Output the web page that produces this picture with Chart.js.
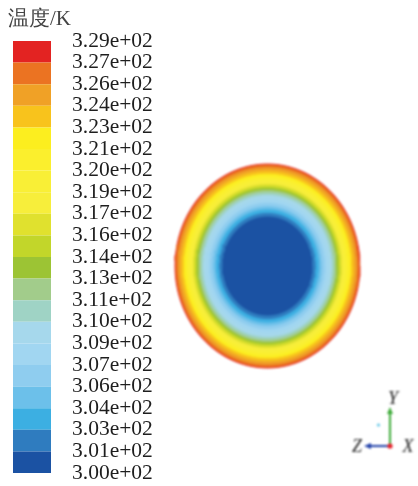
<!DOCTYPE html>
<html>
<head>
<meta charset="utf-8">
<script src="https://cdn.jsdelivr.net/npm/chart.js@4.4.0/dist/chart.umd.min.js"></script>
<style>
    html, body { margin: 0; padding: 0; background: #fff; }
    body { width: 418px; height: 486px; position: relative; overflow: hidden; }
    #barChart { position: absolute; left: 0; top: 0; filter: blur(0.3px); }
    #mapChart { position: absolute; left: 170px; top: 0; filter: blur(0.9px); }
</style>
</head>
<body>
<canvas id="barChart" width="170" height="486"></canvas>
<canvas id="mapChart" width="248" height="486"></canvas>
<script>
// Contour levels shown on the colour bar (bottom to top)
const tickLabels = [
    '3.00e+02', '3.01e+02', '3.03e+02', '3.04e+02', '3.06e+02', '3.07e+02', '3.09e+02',
    '3.10e+02', '3.11e+02', '3.13e+02', '3.14e+02', '3.16e+02', '3.17e+02', '3.19e+02',
    '3.20e+02', '3.21e+02', '3.23e+02', '3.24e+02', '3.26e+02', '3.27e+02', '3.29e+02'
];

// Band colours, coldest first
const bandColors = [
    '#1b52a3', '#2f7cbf', '#3cafe2', '#6cc0ea', '#8fcdef', '#a1d6f1', '#a6d8ec',
    '#9fd3c5', '#a2cc8b', '#9cc434', '#c2d62a', '#e0e12e', '#f7ee3b', '#f9ef36',
    '#fbef2d', '#fcee1f', '#f8c31c', '#f0a126', '#eb7322', '#e32322'
];

// Outer radius of each band in the cross-section (1 = wall), coldest first
const bandRadius = [
    0.48, 0.515, 0.55, 0.58, 0.615, 0.65, 0.69, 0.715, 0.74, 0.76,
    0.78, 0.80, 0.825, 0.85, 0.875, 0.90, 0.93, 0.962, 0.99, 1.00
];

Chart.defaults.font.family = 'Liberation Serif';

// Colour bar
const barCtx = document.getElementById('barChart').getContext('2d');
const barChart = new Chart(barCtx, {
    type: 'bar',
    data: {
        labels: [''],
        datasets: bandColors.map((c, i) => ({
            data: [[i, i + 1]],
            backgroundColor: c,
            borderWidth: 0,
            barPercentage: 0.7917,
            categoryPercentage: 1
        }))
    },
    options: {
        responsive: false,
        animation: false,
        layout: { padding: { left: 8, right: 0, top: 0, bottom: 13 } },
        plugins: {
            legend: { display: false },
            tooltip: { enabled: false },
            title: {
                display: true,
                text: '温度/K',
                align: 'start',
                color: '#444',
                font: { family: 'Liberation Serif', size: 21, weight: 'normal' },
                padding: { top: 7, bottom: 8.8 }
            }
        },
        scales: {
            x: { display: false, stacked: true },
            y: {
                position: 'right',
                min: 0,
                max: 20,
                grid: { display: false, drawTicks: false },
                border: { display: false },
                afterFit: scale => {
                    scale.width = 114;
                    scale.paddingTop = 0;
                    scale.paddingBottom = 0;
                },
                ticks: {
                    stepSize: 1,
                    autoSkip: false,
                    padding: 16,
                    color: '#1e1e1e',
                    font: { family: 'Liberation Serif', size: 21.5 },
                    callback: v => tickLabels[v]
                }
            }
        }
    }
});

// Cross-section contour, drawn as filled rings from the wall inwards
const mapW = 248, mapH = 486;
const cx = 97.5, cy = 266, rx = 92.5, ry = 102;

function ring(r) {
    const pts = [];
    for (let k = 0; k <= 120; k++) {
        const a = k / 120 * Math.PI * 2;
        pts.push({ x: r * Math.cos(a), y: r * Math.sin(a) });
    }
    return pts;
}

const ringSets = bandColors.map((c, i) => ({
    data: ring(bandRadius[i]),
    showLine: true,
    fill: 'shape',
    backgroundColor: c,
    borderColor: c,
    borderWidth: 1,
    pointRadius: 0,
    tension: 0,
    order: i
}));

// little axis triad in the corner
const triad = {
    id: 'triad',
    afterDraw(chart) {
        const ctx = chart.ctx;
        const ox = 220, oy = 446;
        ctx.save();
        ctx.lineWidth = 2;
        // Y (green)
        ctx.strokeStyle = '#3aa935';
        ctx.fillStyle = '#3aa935';
        ctx.beginPath(); ctx.moveTo(ox, oy); ctx.lineTo(ox, 413); ctx.stroke();
        ctx.beginPath(); ctx.moveTo(ox, 407); ctx.lineTo(ox - 3, 414); ctx.lineTo(ox + 3, 414); ctx.closePath(); ctx.fill();
        // Z (blue)
        ctx.strokeStyle = '#1f3fa8';
        ctx.fillStyle = '#1f3fa8';
        ctx.beginPath(); ctx.moveTo(ox, oy); ctx.lineTo(201, oy); ctx.stroke();
        ctx.beginPath(); ctx.moveTo(194, oy); ctx.lineTo(201, oy - 3); ctx.lineTo(201, oy + 3); ctx.closePath(); ctx.fill();
        // X (red dot)
        ctx.fillStyle = '#e5202a';
        ctx.beginPath(); ctx.arc(ox, oy, 2.6, 0, Math.PI * 2); ctx.fill();
        ctx.fillStyle = '#62c6e6';
        ctx.beginPath(); ctx.arc(208.5, 425, 1.6, 0, Math.PI * 2); ctx.fill();
        ctx.fillStyle = '#222';
        ctx.font = 'italic 18px "Liberation Serif"';
        ctx.textAlign = 'center';
        ctx.textBaseline = 'middle';
        ctx.fillText('Y', 223, 399);
        ctx.fillText('Z', 187, 447);
        ctx.fillText('X', 238, 447);
        ctx.restore();
    }
};

const mapCtx = document.getElementById('mapChart').getContext('2d');
const mapChart = new Chart(mapCtx, {
    type: 'scatter',
    data: { datasets: ringSets },
    options: {
        responsive: false,
        animation: false,
        layout: { padding: 0 },
        plugins: { legend: { display: false }, tooltip: { enabled: false } },
        scales: {
            x: { display: false, min: -cx / rx, max: (mapW - cx) / rx },
            y: { display: false, min: -(mapH - cy) / ry, max: cy / ry }
        }
    },
    plugins: [triad]
});
</script>
</body>
</html>
